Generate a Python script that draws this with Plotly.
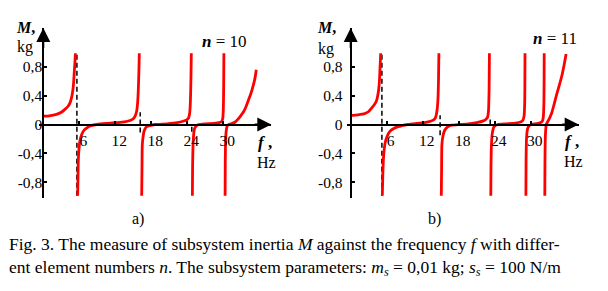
import plotly.graph_objects as go

# ---------------- data ----------------
# panel a), n = 10 : branches of M(f) between poles  (f in Hz, M in kg)
a1_f = [0, 1.0, 2.2, 3.0, 3.6, 4.1, 4.45, 4.7, 4.9, 5.05, 5.17, 5.27, 5.35]
a1_M = [0.115, 0.12, 0.14, 0.17, 0.21, 0.25, 0.30, 0.37, 0.46, 0.58, 0.74, 0.86, 0.99]
a2_f = [5.73, 5.78, 5.83, 5.95, 6.1, 6.4, 6.7, 7.2, 7.8, 8.9, 10.5, 12.2, 13.5, 14.45, 15.0, 15.3, 15.55, 15.7, 15.82, 15.9, 15.96, 16.0]
a2_M = [-0.99, -0.75, -0.51, -0.34, -0.23, -0.14, -0.09, -0.05, -0.02, 0.0, 0.015, 0.025, 0.035, 0.055, 0.08, 0.115, 0.18, 0.28, 0.45, 0.65, 0.82, 0.99]
a3_f = [16.4, 16.45, 16.5, 16.65, 16.8, 17.1, 17.5, 18.6, 20.6, 22.3, 23.3, 23.9, 24.2, 24.38, 24.48, 24.56, 24.62, 24.67]
a3_M = [-0.99, -0.6, -0.28, -0.16, -0.09, -0.04, -0.02, 0.0, 0.01, 0.025, 0.045, 0.065, 0.09, 0.15, 0.25, 0.45, 0.7, 0.99]
a4_f = [24.85, 24.88, 24.95, 25.05, 25.2, 25.5, 25.9, 27.0, 28.5, 29.3, 29.7, 29.9, 30.0, 30.06, 30.1]
a4_M = [-0.99, -0.6, -0.3, -0.15, -0.06, -0.02, 0.0, 0.01, 0.015, 0.025, 0.04, 0.08, 0.2, 0.5, 0.99]
a5_f = [30.3, 30.33, 30.4, 30.5, 30.65, 30.9, 31.5, 32.0, 32.3, 32.8, 33.4, 33.8, 34.2, 34.6, 34.95, 35.25, 35.5]
a5_M = [-0.99, -0.5, -0.2, -0.08, -0.02, 0.0, 0.015, 0.035, 0.06, 0.11, 0.18, 0.25, 0.34, 0.43, 0.53, 0.63, 0.76]
a_asym_f = [5.6, 16.15, 24.75]
a_asym_lo = [-0.99, -0.11, -0.10]
a_asym_hi = [0.99, 0.17, 0.0]

# panel b), n = 11
b1_f = [0, 1.2, 2.33, 3.0, 3.4, 3.9, 4.3, 4.5, 4.67, 4.8, 4.88, 4.95, 5.0]
b1_M = [0.127, 0.135, 0.15, 0.18, 0.22, 0.27, 0.33, 0.40, 0.49, 0.62, 0.77, 0.9, 0.99]
b2_f = [5.27, 5.35, 5.5, 5.78, 6.1, 6.5, 7.1, 7.9, 9.55, 11.0, 12.3, 13.3, 13.9, 14.15, 14.3, 14.45, 14.55, 14.63, 14.7]
b2_M = [-0.99, -0.7, -0.42, -0.24, -0.16, -0.10, -0.06, -0.03, 0.0, 0.015, 0.027, 0.045, 0.07, 0.1, 0.15, 0.24, 0.36, 0.6, 0.99]
b3_f = [15.1, 15.15, 15.2, 15.4, 15.67, 16.1, 16.8, 18.0, 19.3, 21.0, 22.1, 22.5, 22.8, 22.95, 23.0, 23.07, 23.12]
b3_M = [-0.99, -0.6, -0.28, -0.15, -0.08, -0.035, -0.01, 0.0, 0.005, 0.025, 0.05, 0.07, 0.10, 0.17, 0.25, 0.5, 0.99]
b4_f = [23.35, 23.38, 23.45, 23.6, 23.9, 24.5, 26.0, 27.5, 28.3, 28.7, 28.9, 29.0, 29.05]
b4_M = [-0.99, -0.6, -0.3, -0.12, -0.03, 0.0, 0.01, 0.02, 0.035, 0.06, 0.12, 0.3, 0.99]
b5_f = [29.2, 29.23, 29.3, 29.45, 29.7, 30.2, 31.0, 31.6, 31.95, 32.1, 32.2, 32.25]
b5_M = [-0.99, -0.5, -0.2, -0.07, -0.02, 0.0, 0.012, 0.025, 0.05, 0.1, 0.3, 0.99]
b6_f = [32.35, 32.38, 32.45, 32.6, 32.9, 33.2, 33.5, 33.9, 34.3, 34.75, 35.2, 35.55, 35.9]
b6_M = [-0.99, -0.5, -0.15, 0.0, 0.05, 0.1, 0.16, 0.28, 0.41, 0.54, 0.68, 0.82, 0.98]
b_asym_f = [5.2, 14.9, 23.25]
b_asym_lo = [-0.99, -0.15, 0.0]
b_asym_hi = [0.99, 0.13, 0.1]

x_ticks = [6, 12, 18, 24, 30]
x_ticktext = ["6", "12", "18", "24", "30"]
y_ticks = [-0.8, -0.4, 0, 0.4, 0.8]
y_ticktext = ["-0,8", "-0,4", "0", "0,4", "0,8"]

# ---------------- layout constants (pixels) ----------------
W, H = 608, 291
PXF = 6.0               # px per Hz
X0A, X0B = 43.3, 350.7  # px of f = 0
XMIN, XMAX = -0.7, 38.0
Y0 = 124.5              # px of M = 0
PXM = 72.0              # px per kg
YTOP, YBOT = 28.0, 198.0
YMAX = (Y0 - YTOP) / PXM
YMIN = (Y0 - YBOT) / PXM

SERIF = "Liberation Serif, Times New Roman, serif"
RED = "#ff0000"

def px(x):
    return x / W

def py(y):
    return 1 - y / H

fig = go.Figure()

branches_a = [(a1_f, a1_M), (a2_f, a2_M), (a3_f, a3_M), (a4_f, a4_M), (a5_f, a5_M)]
branches_b = [(b1_f, b1_M), (b2_f, b2_M), (b3_f, b3_M), (b4_f, b4_M), (b5_f, b5_M), (b6_f, b6_M)]

for xa, ya, asym, lo, hi, branches in [
    ("x", "y", a_asym_f, a_asym_lo, a_asym_hi, branches_a),
    ("x2", "y2", b_asym_f, b_asym_lo, b_asym_hi, branches_b),
]:
    for fa, l, h in zip(asym, lo, hi):
        fig.add_trace(go.Scatter(x=[fa, fa], y=[l, h], mode="lines", xaxis=xa, yaxis=ya,
                                 line=dict(color="black", width=1.5, dash="5px,3px"),
                                 hoverinfo="skip", showlegend=False))
    for f, m in branches:
        fig.add_trace(go.Scatter(x=f, y=m, mode="lines", xaxis=xa, yaxis=ya,
                                 line=dict(color=RED, width=2.8, shape="spline", smoothing=0.6),
                                 hoverinfo="skip", showlegend=False))

def xaxis_cfg(x0):
    left = x0 + XMIN * PXF
    right = x0 + XMAX * PXF
    return dict(domain=[px(left), px(right)], range=[XMIN, XMAX], anchor="free",
                position=py(Y0), showline=True, linecolor="black", linewidth=2,
                ticks="inside", ticklen=3, tickwidth=1.5, tickcolor="black",
                tickvals=x_ticks, ticktext=x_ticktext, ticklabelshift=4, ticklabelstandoff=2,
                tickfont=dict(family=SERIF, size=15.5, color="black"),
                showgrid=False, zeroline=False, fixedrange=True)

def yaxis_cfg(x0, standoff):
    return dict(domain=[py(YBOT), py(YTOP)], range=[YMIN, YMAX], anchor="free",
                position=px(x0), showline=True, linecolor="black", linewidth=2,
                ticks="inside", ticklen=3, tickwidth=1.5, tickcolor="black",
                tickvals=y_ticks, ticktext=y_ticktext, ticklabelstandoff=standoff,
                tickfont=dict(family=SERIF, size=15.5, color="black"),
                showgrid=False, zeroline=False, fixedrange=True)

annotations = []
for xa, ya in [("x", "y"), ("x2", "y2")]:
    annotations.append(dict(x=XMAX, y=0, ax=XMAX - 3, ay=0, xref=xa, yref=ya, axref=xa, ayref=ya,
                            text="", showarrow=True, arrowhead=2, arrowsize=1.4, arrowwidth=2,
                            arrowcolor="black"))
    annotations.append(dict(x=0, y=YMAX, ax=0, ay=YMAX - 0.3, xref=xa, yref=ya, axref=xa, ayref=ya,
                            text="", showarrow=True, arrowhead=2, arrowsize=1.4, arrowwidth=2,
                            arrowcolor="black"))

def label(text, x, y, size=16, xanchor="center", align="center"):
    annotations.append(dict(text=text, x=px(x), y=py(y), xref="paper", yref="paper",
                            xanchor=xanchor, yanchor="middle", showarrow=False, align=align,
                            font=dict(family=SERIF, size=size, color="black")))

label("<b><i>M</i>,</b>", 25, 27)
label("kg", 25, 47)
label("<b><i>n</i></b> = 10", 224, 42, size=17)
label("<b><i>f</i> ,</b>", 265, 142, size=17)
label("Hz", 266, 162)
label("<b><i>M</i>,</b>", 326, 27)
label("kg", 326, 49)
label("<b><i>n</i></b> = 11", 555, 39, size=17)
label("<b><i>f</i> ,</b>", 572, 141, size=17)
label("Hz", 573, 161)
label("a)", 138, 219, size=16)
label("b)", 434, 219, size=16)
label("Fig. 3. The measure of subsystem inertia <i>M</i> against the frequency <i>f</i> with differ-<br>"
      "ent element numbers <i>n</i>. The subsystem parameters: <i>m<sub>s</sub></i> = 0,01 kg; "
      "<i>s<sub>s</sub></i> = 100 N/m", 7, 256, size=17.5, xanchor="left", align="left")

fig.update_layout(
    width=W, height=H, margin=dict(l=0, r=0, t=0, b=0),
    paper_bgcolor="white", plot_bgcolor="rgba(0,0,0,0)",
    xaxis=xaxis_cfg(X0A), yaxis=yaxis_cfg(X0A, -3),
    xaxis2=xaxis_cfg(X0B), yaxis2=yaxis_cfg(X0B, 4),
    annotations=annotations, showlegend=False,
)

fig.write_html("out.html", config={"displayModeBar": False})
